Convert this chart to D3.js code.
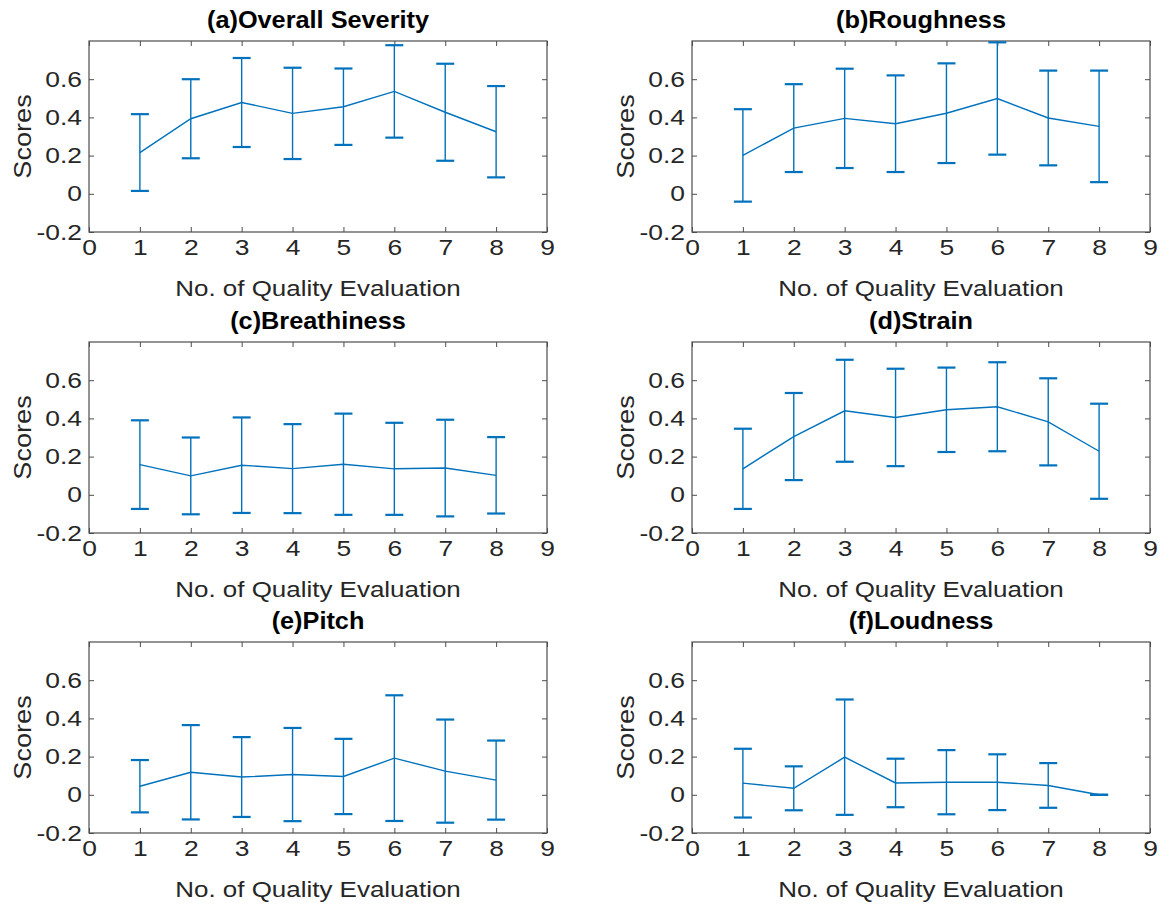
<!DOCTYPE html>
<html>
<head>
<meta charset="utf-8">
<script src="https://cdn.jsdelivr.net/npm/d3@7"></script>
<style>
  body { margin: 0; background: #fff; }
  svg text { font-family: "Liberation Sans", Arial, Helvetica, sans-serif; fill: #262626; }
</style>
</head>
<body>
<svg id="chart" width="1169" height="908"></svg>
<script>
// Data
const evaluations = [1, 2, 3, 4, 5, 6, 7, 8];
const xTickValues = [0, 1, 2, 3, 4, 5, 6, 7, 8, 9];
const yTickValues = [-0.2, 0, 0.2, 0.4, 0.6];
const panelTitles = ['(a)Overall Severity', '(b)Roughness', '(c)Breathiness',
  '(d)Strain', '(e)Pitch', '(f)Loudness'];

const severityMean = [0.216, 0.393, 0.478, 0.421, 0.456, 0.536, 0.427, 0.325];
const severityErr = [0.201, 0.207, 0.233, 0.239, 0.2, 0.242, 0.254, 0.239];
const roughnessMean = [0.201, 0.344, 0.395, 0.367, 0.422, 0.499, 0.397, 0.353];
const roughnessErr = [0.242, 0.23, 0.26, 0.253, 0.261, 0.294, 0.248, 0.292];
const breathinessMean = [0.158, 0.099, 0.155, 0.137, 0.16, 0.136, 0.14, 0.102];
const breathinessErr = [0.232, 0.201, 0.25, 0.233, 0.265, 0.241, 0.253, 0.2];
const strainMean = [0.136, 0.305, 0.44, 0.405, 0.445, 0.461, 0.382, 0.228];
const strainErr = [0.21, 0.228, 0.267, 0.255, 0.221, 0.233, 0.228, 0.249];
const pitchMean = [0.045, 0.118, 0.093, 0.106, 0.096, 0.192, 0.124, 0.077];
const pitchErr = [0.137, 0.247, 0.209, 0.244, 0.197, 0.329, 0.27, 0.207];
const loudnessMean = [0.061, 0.034, 0.197, 0.062, 0.066, 0.066, 0.049, 0.0];
const loudnessErr = [0.18, 0.115, 0.302, 0.127, 0.168, 0.146, 0.117, 0.0];

const panelMeans = [severityMean, roughnessMean, breathinessMean, strainMean, pitchMean, loudnessMean];
const panelErrs = [severityErr, roughnessErr, breathinessErr, strainErr, pitchErr, loudnessErr];

// Layout
const colLeft = [89, 692];
const rowTop = [41, 342, 642];
const plotW = 458;
const plotH = 191;
const lineColor = '#0072BD';
const axisColor = '#4d4d4d';
const capHalf = 9;
const stretch = 1.2; // the reference glyphs are wider than Liberation Sans

const svg = d3.select('#chart');

panelTitles.forEach((title, i) => {
  const left = colLeft[i % 2];
  const top = rowTop[Math.floor(i / 2)];
  const means = panelMeans[i];
  const errs = panelErrs[i];

  const x = d3.scaleLinear().domain([0, 9]).range([0, plotW]);
  const y = d3.scaleLinear().domain([-0.2, 0.8]).range([plotH, 0]);

  const g = svg.append('g').attr('transform', `translate(${left},${top})`);

  const styleAxis = sel => {
    sel.select('.domain').remove();
    sel.selectAll('.tick line').attr('stroke', axisColor).attr('stroke-width', 1);
    sel.selectAll('.tick text')
      .style('font-size', '22px')
      .attr('fill', '#262626')
      .attr('transform', `scale(${stretch},1)`);
  };

  // bottom axis, labelled
  g.append('g')
    .attr('transform', `translate(0,${plotH})`)
    .call(d3.axisBottom(x).tickValues(xTickValues).tickSize(-5).tickPadding(7).tickFormat(d => String(d)))
    .call(styleAxis);

  g.append('g')
    .call(d3.axisTop(x).tickValues(xTickValues).tickSize(-5).tickFormat(''))
    .call(styleAxis);

  const yAxis = g.append('g')
    .call(d3.axisLeft(y).tickValues(yTickValues).tickSize(-5).tickFormat(d => String(d)))
    .call(styleAxis);
  yAxis.selectAll('.tick text').attr('x', -7 / stretch);

  g.append('g')
    .attr('transform', `translate(${plotW},0)`)
    .call(d3.axisRight(y).tickValues(yTickValues).tickSize(-5).tickFormat(''))
    .call(styleAxis);

  // Box
  g.append('rect')
    .attr('x', 0).attr('y', 0)
    .attr('width', plotW).attr('height', plotH)
    .attr('fill', 'none')
    .attr('stroke', axisColor)
    .attr('stroke-width', 1.2);

  // Error bars
  const bars = g.append('g').attr('class', 'errorbars');
  evaluations.forEach((ev, k) => {
    const cx = x(ev);
    const yHi = y(means[k] + errs[k]);
    const yLo = y(means[k] - errs[k]);
    bars.append('line')
      .attr('x1', cx).attr('x2', cx)
      .attr('y1', yHi).attr('y2', yLo)
      .attr('stroke', lineColor).attr('stroke-width', 1.4);
    [yHi, yLo].forEach(cy => {
      bars.append('line')
        .attr('x1', cx - capHalf).attr('x2', cx + capHalf)
        .attr('y1', cy).attr('y2', cy)
        .attr('stroke', lineColor).attr('stroke-width', 2.2);
    });
  });

  // Mean line
  const line = d3.line()
    .x((d, k) => x(evaluations[k]))
    .y(d => y(d));
  g.append('path')
    .datum(means)
    .attr('d', line)
    .attr('fill', 'none')
    .attr('stroke', lineColor)
    .attr('stroke-width', 1.4);

  // Title
  g.append('text')
    .attr('transform', `translate(${plotW / 2},-13) scale(1.1,1)`)
    .attr('text-anchor', 'middle')
    .style('font-size', '23px')
    .style('font-weight', 'bold')
    .style('fill', '#000')
    .text(title);

  // Axis labels
  g.append('text')
    .attr('transform', `translate(${plotW / 2},${plotH + 64}) scale(1.18,1)`)
    .attr('text-anchor', 'middle')
    .style('font-size', '22px')
    .text('No. of Quality Evaluation');

  g.append('text')
    .attr('transform', `translate(-58,${plotH / 2}) rotate(-90) scale(1.18,1)`)
    .attr('text-anchor', 'middle')
    .style('font-size', '23px')
    .text('Scores');
});
</script>
</body>
</html>
